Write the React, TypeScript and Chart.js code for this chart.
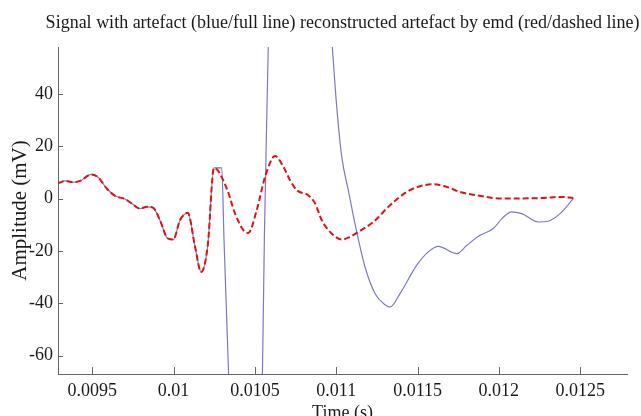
import React, { useEffect, useRef } from "react";
import { Chart, registerables } from "chart.js";

Chart.register(...registerables);

const TITLE = "Signal with artefact (blue/full line) reconstructed artefact by emd (red/dashed line)";
const X_LABEL = "Time (s)";
const Y_LABEL = "Amplitude (mV)";

const xTickValues = [0.0095, 0.01, 0.0105, 0.011, 0.0115, 0.012, 0.0125];
const yTickValues = [-60, -40, -20, 0, 20, 40];

// Shared part (signal and reconstruction coincide)
const timeShared = [
  0.009289, 0.009301, 0.009332, 0.009383, 0.009424, 0.009496, 0.009537, 0.009589,
  0.00964, 0.009701, 0.009742, 0.009793, 0.009835, 0.009875, 0.009916, 0.009964,
  0.009998, 0.010039, 0.010087, 0.010132, 0.010169, 0.01021, 0.010248,
];
const valueShared = [
  6.0, 6.2, 6.8, 6.3, 6.8, 9.3, 8.1, 3.9,
  1.1, -0.1, -1.8, -3.8, -3.1, -3.5, -8.2, -15.2,
  -15.6, -8.2, -5.4, -18.4, -28.0, -17.8, 11.8,
];

// Signal with artefact (blue)
const timeSignal = [
  0.010255, 0.010296, 0.01031, 0.010338, 0.010359, 0.010519, 0.010546, 0.010558,
  0.010582, 0.010599, 0.010777, 0.0109, 0.010976, 0.011003, 0.011034, 0.011074,
  0.011126, 0.011177, 0.011239, 0.0113, 0.011331, 0.011392, 0.011495, 0.011566,
  0.011628, 0.011741, 0.011803, 0.011884, 0.011966, 0.01202, 0.012079, 0.012141,
  0.012243, 0.012304, 0.012376, 0.012458,
];
const valueSignal = [
  11.8, 11.8, -15.9, -67, -110, -110, -67, -15,
  58, 110, 160, 125, 58, 35.1, 16, 3.3,
  -12.7, -26.1, -36.3, -40.5, -41.4, -36.3, -25.4, -20.3,
  -18.2, -21, -17.8, -14, -11.4, -7.5, -5, -5.7,
  -8.9, -8.6, -5.7, 0.1,
];

// Reconstructed artefact (red)
const timeArtefact = [
  0.010327, 0.010378, 0.010429, 0.010459, 0.010511, 0.010562, 0.010624, 0.010675,
  0.010716, 0.010757, 0.010828, 0.01087, 0.010911, 0.010972, 0.011034, 0.011085,
  0.011136, 0.011228, 0.011331, 0.011434, 0.011515, 0.011597, 0.01168, 0.011761,
  0.011864, 0.011966, 0.012069, 0.012274, 0.012376, 0.012458,
];
const valueArtefact = [
  3.9, -5.7, -12, -13.1, -4.4, 8.3, 16.3, 12.2,
  7.1, 3.3, 1.3, -1.8, -8.2, -13.3, -15.6, -14.6,
  -12.7, -8.9, -2.5, 2.6, 4.8, 5.5, 4.5, 2.6,
  1.3, 0.3, 0.1, 0.3, 0.7, 0.3,
];

const X_MIN = 0.009289;
const X_MAX = 0.012788;
const Y_MIN = -67;
const Y_MAX = 58;

const FONT = "'Liberation Serif', 'Times New Roman', serif";
const AXIS_COLOR = "#666666";
const TEXT_COLOR = "#1a1a1a";

const toPoints = (xs: number[], ys: number[]) => xs.map((x, i) => ({ x, y: ys[i] }));

export default function App() {
  const ref = useRef<HTMLCanvasElement | null>(null);

  useEffect(() => {
    if (!ref.current) return;

    const tickPlugin = {
      id: "inwardTicks",
      afterDraw(chart: any) {
        const { ctx, chartArea } = chart;
        const xs = chart.scales.x;
        const ys = chart.scales.y;
        ctx.save();
        ctx.strokeStyle = AXIS_COLOR;
        ctx.lineWidth = 1;
        ctx.beginPath();
        xs.ticks.forEach((_t: any, i: number) => {
          const px = Math.round(xs.getPixelForTick(i)) + 0.5;
          ctx.moveTo(px, chartArea.bottom);
          ctx.lineTo(px, chartArea.bottom - 7);
        });
        ys.ticks.forEach((_t: any, i: number) => {
          const py = Math.round(ys.getPixelForTick(i)) + 0.5;
          ctx.moveTo(chartArea.left, py);
          ctx.lineTo(chartArea.left + 5, py);
        });
        ctx.stroke();
        // title
        ctx.fillStyle = TEXT_COLOR;
        ctx.font = `18px ${FONT}`;
        ctx.textAlign = "center";
        ctx.textBaseline = "alphabetic";
        ctx.fillText(TITLE, (chartArea.left + chartArea.right) / 2, 28);
        ctx.restore();
      },
    };

    const chart = new Chart(ref.current, {
      type: "line",
      data: {
        datasets: [
          {
            label: "Reconstructed artefact",
            data: [...toPoints(timeShared, valueShared), ...toPoints(timeArtefact, valueArtefact)],
            borderColor: "#dc1414",
            borderWidth: 2,
            borderDash: [6, 3],
            pointRadius: 0,
            cubicInterpolationMode: "monotone",
            tension: 0.4,
            fill: false,
          },
          {
            label: "Signal with artefact",
            data: [...toPoints(timeShared, valueShared), ...toPoints(timeSignal, valueSignal)],
            borderColor: "#7a7ac4",
            borderWidth: 1.2,
            pointRadius: 0,
            cubicInterpolationMode: "monotone",
            tension: 0.4,
            fill: false,
          },
        ],
      },
      options: {
        animation: false,
        responsive: false,
        events: [],
        layout: { padding: { top: 47, right: 14, left: 0, bottom: 0 } },
        plugins: {
          legend: { display: false },
          tooltip: { enabled: false },
          title: { display: false },
        },
        scales: {
          x: {
            type: "linear",
            min: X_MIN,
            max: X_MAX,
            afterBuildTicks: (scale: any) => {
              scale.ticks = xTickValues.map((v) => ({ value: v }));
            },
            afterFit: (scale: any) => {
              scale.height = 42;
            },
            grid: { display: false, drawTicks: false },
            border: { display: true, color: AXIS_COLOR, width: 1 },
            ticks: {
              color: TEXT_COLOR,
              font: { family: FONT, size: 18 },
              padding: 6,
              maxRotation: 0,
              autoSkip: false,
              callback: (v: any) => String(+Number(v).toFixed(6)),
            },
            title: {
              display: true,
              text: X_LABEL,
              color: TEXT_COLOR,
              font: { family: FONT, size: 18 },
              padding: { top: 0, bottom: -8 },
            },
          },
          y: {
            type: "linear",
            min: Y_MIN,
            max: Y_MAX,
            afterBuildTicks: (scale: any) => {
              scale.ticks = yTickValues.map((v) => ({ value: v }));
            },
            afterFit: (scale: any) => {
              scale.width = 58;
            },
            grid: { display: false, drawTicks: false },
            border: { display: true, color: AXIS_COLOR, width: 1 },
            ticks: {
              color: TEXT_COLOR,
              font: { family: FONT, size: 18 },
              padding: 5,
              autoSkip: false,
              callback: (v: any) => String(v),
            },
            title: {
              display: true,
              text: Y_LABEL,
              color: TEXT_COLOR,
              font: { family: FONT, size: 21 },
              padding: { top: 8, bottom: 0 },
            },
          },
        },
      },
      plugins: [tickPlugin],
    });

    return () => chart.destroy();
  }, []);

  return (
    <div style={{ position: "absolute", left: 0, top: 0, width: 641, height: 416, background: "#fff" }}>
      <canvas ref={ref} width={641} height={416} />
    </div>
  );
}
